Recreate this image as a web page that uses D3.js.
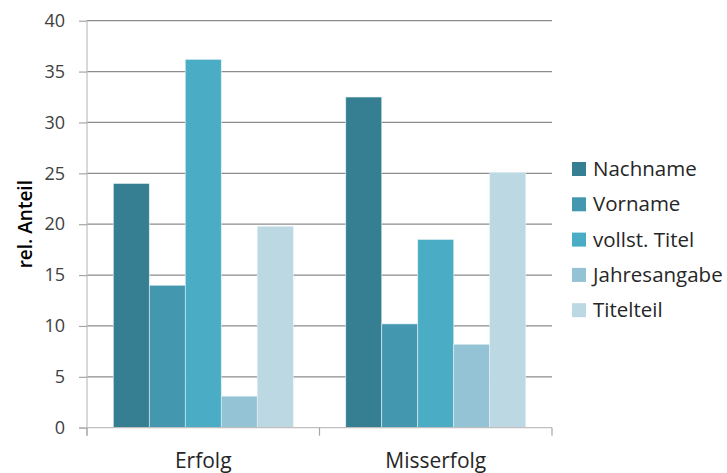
<!DOCTYPE html>
<html>
<head>
<meta charset="utf-8">
<script src="https://cdn.jsdelivr.net/npm/d3@7"></script>
<style>
  body { margin: 0; background: #fff; }
  text { font-family: "Open Sans", "Noto Sans", sans-serif; }
</style>
</head>
<body>
<svg id="chart" width="727" height="473"></svg>
<script>
// Outcome groups and the matched field types
const categories = ["Erfolg", "Misserfolg"];
const series = ["Nachname", "Vorname", "vollst. Titel", "Jahresangabe", "Titelteil"];
const erfolgValues = [24.0, 14.0, 36.2, 3.1, 19.8];
const misserfolgValues = [32.5, 10.2, 18.5, 8.2, 25.1];
const yTicks = [0, 5, 10, 15, 20, 25, 30, 35, 40];
const colors = ["#367f93", "#4397ae", "#4aacc5", "#93c3d5", "#bcd8e3"];

const valuesByCategory = { "Erfolg": erfolgValues, "Misserfolg": misserfolgValues };
const rows = [];
categories.forEach(c => series.forEach((s, i) => rows.push({ cat: c, series: s, value: valuesByCategory[c][i] })));

const svg = d3.select("#chart");
const plot = { left: 87, right: 552, top: 20.7, bottom: 427.7 };

const y = d3.scaleLinear().domain([0, 40]).range([plot.bottom, plot.top]);
const x0 = d3.scaleBand().domain(categories).range([plot.left, plot.right]).paddingInner(0).paddingOuter(0);
const x1 = d3.scaleBand().domain(series).range([0, x0.bandwidth()]).paddingInner(0).paddingOuter(0.73);
const color = d3.scaleOrdinal().domain(series).range(colors);

// Horizontal gridlines
svg.append("g")
  .selectAll("line")
  .data(yTicks.filter(t => t > 0))
  .join("line")
  .attr("x1", plot.left).attr("x2", plot.right)
  .attr("y1", d => y(d)).attr("y2", d => y(d))
  .attr("stroke", "#8c8c8c").attr("stroke-width", 1.2);

// Y axis with outward ticks
const yAxis = svg.append("g")
  .attr("transform", `translate(${plot.left},0)`)
  .call(d3.axisLeft(y).tickValues(yTicks).tickSize(8).tickPadding(14));
yAxis.select(".domain").attr("stroke", "#bfbfbf").attr("stroke-width", 1.2)
  .attr("d", `M0,${plot.top}V${plot.bottom + 8}`);
yAxis.selectAll(".tick line").attr("stroke", "#a6a6a6").attr("stroke-width", 1.2);
yAxis.selectAll(".tick text").attr("font-size", 18).attr("fill", "#404040");

// Bars
svg.append("g")
  .selectAll("rect")
  .data(rows)
  .join("rect")
  .attr("x", d => x0(d.cat) + x1(d.series))
  .attr("y", d => y(d.value))
  .attr("width", x1.bandwidth())
  .attr("height", d => y(0) - y(d.value))
  .attr("fill", d => color(d.series))
  .attr("stroke", "#e4f1f5").attr("stroke-width", 0.6);

// X axis with category separators
const xAxis = svg.append("g").attr("transform", `translate(0,${plot.bottom})`);
xAxis.append("line")
  .attr("x1", plot.left - 8).attr("x2", plot.right)
  .attr("stroke", "#bfbfbf").attr("stroke-width", 1.2);
const edges = [plot.left].concat(categories.map(c => x0(c) + x0.bandwidth()));
xAxis.selectAll("line.sep")
  .data(edges)
  .join("line").attr("class", "sep")
  .attr("x1", d => d).attr("x2", d => d).attr("y1", 0).attr("y2", 8)
  .attr("stroke", "#a6a6a6").attr("stroke-width", 1.2);
xAxis.selectAll("text")
  .data(categories)
  .join("text")
  .attr("x", d => x0(d) + x0.bandwidth() / 2)
  .attr("y", 40)
  .attr("text-anchor", "middle")
  .attr("font-size", 21)
  .attr("fill", "#262626")
  .text(d => d);

// Y axis title
svg.append("text")
  .attr("transform", `translate(32,${(plot.top + plot.bottom) / 2}) rotate(-90)`)
  .attr("text-anchor", "middle")
  .attr("font-size", 19)
  .attr("font-weight", 600)
  .attr("fill", "#000")
  .text("rel. Anteil");

// Legend
const legend = svg.append("g").attr("transform", "translate(572,169)");
const item = legend.selectAll("g")
  .data(series)
  .join("g")
  .attr("transform", (d, i) => `translate(0,${i * 35.3})`);
item.append("rect")
  .attr("x", 0).attr("y", -7).attr("width", 14).attr("height", 14)
  .attr("fill", d => color(d));
item.append("text")
  .attr("x", 21).attr("y", 0).attr("dy", "0.35em")
  .attr("font-size", 20.5)
  .attr("fill", "#262626")
  .text(d => d);
</script>
</body>
</html>
